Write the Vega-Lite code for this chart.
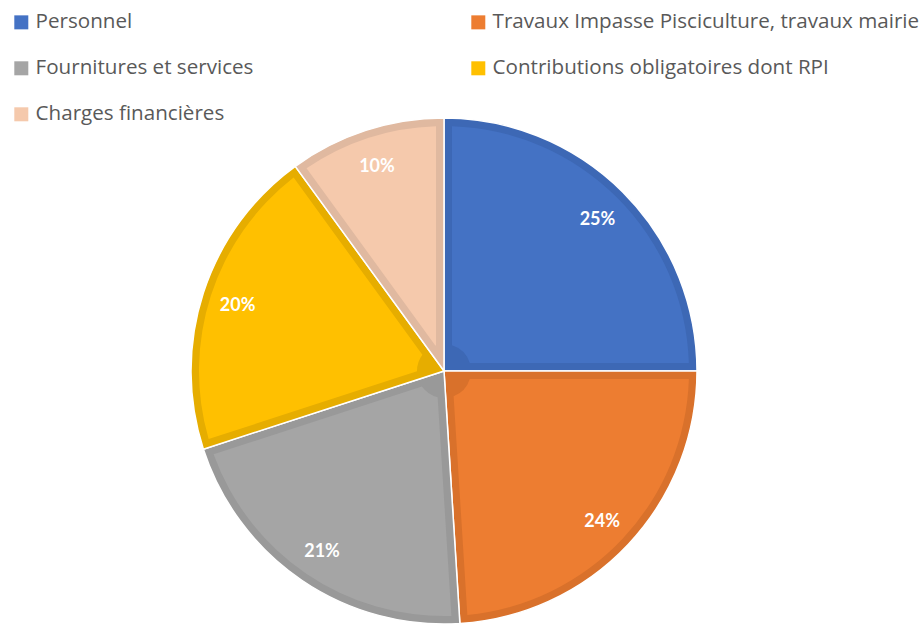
{
  "$schema": "https://vega.github.io/schema/vega-lite/v6.json",
  "width": 888,
  "height": 506,
  "padding": {"left": 0, "top": 118, "right": 36, "bottom": 0},
  "autosize": {"type": "none"},
  "background": "white",
  "config": {"view": {"stroke": null}},
  "data": {
    "values": [
      {"poste": "Personnel", "part": 0.25, "ordre": 1},
      {"poste": "Travaux Impasse Pisciculture, travaux mairie", "part": 0.24, "ordre": 2},
      {"poste": "Fournitures et services", "part": 0.21, "ordre": 3},
      {"poste": "Contributions obligatoires dont RPI", "part": 0.20, "ordre": 4},
      {"poste": "Charges financières", "part": 0.10, "ordre": 5}
    ]
  },
  "encoding": {
    "theta": {"field": "part", "type": "quantitative", "stack": true},
    "order": {"field": "ordre", "type": "quantitative"}
  },
  "layer": [
    {
      "mark": {"type": "arc", "radius": 253, "stroke": "white", "strokeWidth": 1.5},
      "encoding": {
        "color": {
          "field": "poste",
          "type": "nominal",
          "scale": {
            "domain": ["Personnel", "Travaux Impasse Pisciculture, travaux mairie", "Fournitures et services", "Contributions obligatoires dont RPI", "Charges financières"],
            "range": ["#3D68B5", "#D9712B", "#999999", "#E6AD00", "#E0B9A0"]
          },
          "legend": null
        }
      }
    },
    {
      "mark": {"type": "arc", "radius": 245, "radius2": 27, "padAngle": 0.0649},
      "encoding": {
        "color": {
          "field": "poste",
          "type": "nominal",
          "sort": ["Personnel", "Travaux Impasse Pisciculture, travaux mairie", "Fournitures et services", "Contributions obligatoires dont RPI", "Charges financières"],
          "scale": {
            "domain": ["Personnel", "Travaux Impasse Pisciculture, travaux mairie", "Fournitures et services", "Contributions obligatoires dont RPI", "Charges financières"],
            "range": ["#4472C4", "#ED7D31", "#A5A5A5", "#FFC000", "#F5C9AC"]
          },
          "legend": {
            "title": null,
            "orient": "none",
            "legendX": 11,
            "legendY": -106,
            "columns": 2,
            "direction": "horizontal",
            "columnPadding": 214,
            "rowPadding": 25,
            "padding": 0,
            "symbolType": "square",
            "symbolSize": 196,
            "symbolStrokeWidth": 0,
            "labelFont": "Open Sans",
            "labelFontSize": 20.6,
            "labelColor": "#595959",
            "labelOffset": 4,
            "labelLimit": 500
          }
        }
      }
    },
    {
      "mark": {"type": "text", "radius": 217, "font": "Lato", "fontSize": 18, "fontWeight": "bold", "fill": "white", "dy": 2},
      "encoding": {
        "detail": {"field": "poste", "type": "nominal"},
        "text": {"field": "part", "type": "quantitative", "format": ".0%"}
      }
    }
  ],
  "resolve": {"scale": {"color": "independent"}}
}
